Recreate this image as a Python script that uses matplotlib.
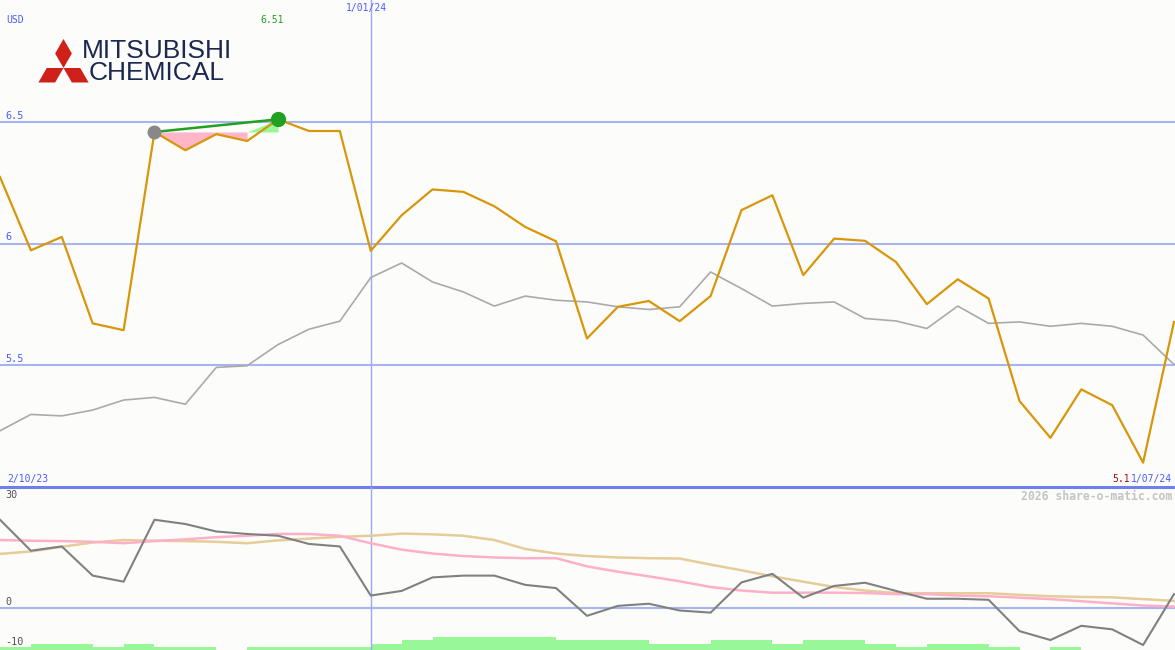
import matplotlib
matplotlib.use("Agg")
import matplotlib.pyplot as plt
from matplotlib.patches import Polygon
import numpy as np

# weekly closes, 2/10/23 .. 1/07/24 (USD)
price = [6.273, 5.972, 6.027, 5.672, 5.644, 6.458, 6.383, 6.449, 6.421, 6.51,
         6.462, 6.462, 5.970, 6.116, 6.222, 6.212, 6.153, 6.068, 6.009, 5.610,
         5.740, 5.764, 5.681, 5.784, 6.137, 6.198, 5.870, 6.020, 6.011, 5.924,
         5.751, 5.853, 5.774, 5.353, 5.202, 5.401, 5.336, 5.100, 5.678]
price_ma = [5.231, 5.298, 5.292, 5.316, 5.357, 5.368, 5.340, 5.491, 5.498, 5.585,
            5.648, 5.681, 5.860, 5.920, 5.842, 5.801, 5.743, 5.784, 5.767, 5.760,
            5.740, 5.729, 5.740, 5.883, 5.815, 5.743, 5.754, 5.760, 5.692, 5.682,
            5.651, 5.743, 5.672, 5.678, 5.660, 5.672, 5.660, 5.624, 5.503]
# lower panel: momentum and its two averages
momentum = [24.7, 16.0, 17.2, 9.0, 7.3, 24.7, 23.5, 21.4, 20.7, 20.2,
            17.9, 17.2, 3.4, 4.7, 8.5, 9.0, 9.0, 6.4, 5.5, -2.3,
            0.5, 1.1, -0.8, -1.4, 7.1, 9.5, 2.8, 6.1, 7.0, 4.7,
            2.5, 2.5, 2.2, -6.6, -9.1, -5.1, -6.1, -10.5, 3.8]
mom_avg1 = [19.0, 18.8, 18.7, 18.5, 18.1, 18.7, 19.2, 19.8, 20.2, 20.7,
            20.7, 20.2, 18.1, 16.3, 15.2, 14.5, 14.1, 13.9, 13.9, 11.6,
            10.1, 8.8, 7.4, 5.8, 4.8, 4.2, 4.2, 4.2, 4.1, 3.8,
            3.8, 3.4, 3.2, 2.8, 2.4, 1.8, 1.2, 0.6, 0.3]
mom_avg2 = [15.1, 15.8, 17.1, 18.3, 19.0, 18.8, 18.7, 18.5, 18.1, 18.9,
            19.4, 19.9, 20.2, 20.8, 20.6, 20.2, 19.0, 16.5, 15.2, 14.5,
            14.1, 13.9, 13.8, 12.1, 10.5, 8.8, 7.3, 5.8, 4.8, 4.1,
            4.05, 4.05, 4.05, 3.6, 3.2, 3.0, 2.9, 2.4, 1.9]
volume = [1, 2, 2, 1, 2, 1, 1, 0, 1, 1, 1, 1, 2, 3, 4, 4, 4, 4, 3, 3,
          3, 2, 2, 3, 3, 2, 3, 3, 2, 1, 2, 2, 1, 0, 1, 0, 0, 0]
start_label = "2/10/23"
end_label = "1/07/24"
month_label = "1/01/24"
month_idx = 12
price_ticks = [5.5, 6, 6.5]
osc_ticks = [30, 0, -10]
swing_from, swing_to = 5, 9

BG = "#fcfdfb"
GRID = "#a8b4f0"
BLUE = "#4a5cff"
ORANGE = "#d8960a"
mono = "DejaVu Sans Mono"

W, H = 1175, 650
fig = plt.figure(figsize=(W / 100, H / 100), dpi=100, facecolor=BG)
split = 487

x = np.arange(len(price))
xmax = (len(price) - 1) * W / (W - 1)

# ---- price panel
ax = fig.add_axes([0, (H - split) / H, 1, split / H], facecolor=BG)
ax.set_xlim(0, xmax)
ax.set_ylim(5.0, 7.0)
for t in price_ticks:
    ax.axhline(t, color=GRID, lw=1.5, zorder=1)
ax.axvline(month_idx, color="#9aa8f8", lw=1.0, zorder=1)
ax.plot(x, price_ma, color="#aaaaaa", lw=1.2, zorder=3)

level = price[swing_from]
xs = x[swing_from:swing_to]
ax.fill_between(xs, level, price[swing_from:swing_to], color="#ffb6c8", lw=0, zorder=2)
ax.fill_between(x[swing_to - 1:swing_to + 1], level, [level, price[swing_to]],
                color="#98f898", lw=0, zorder=2)
ax.plot(x, price, color=ORANGE, lw=1.6, zorder=4)
ax.plot([swing_from, swing_to], [price[swing_from], price[swing_to]],
        color="#22a022", lw=1.8, zorder=5)
ax.plot(swing_from, price[swing_from], "o", ms=9, color="#888888", zorder=6)
ax.plot(swing_to, price[swing_to], "o", ms=10, color="#22a022", zorder=6)
ax.axis("off")

# ---- oscillator panel
ax2 = fig.add_axes([0, 0, 1, (H - split) / H], facecolor=BG)
ax2.set_xlim(0, xmax)
ax2.set_ylim(-11.9, 33.9)
axv = ax2.twinx()
axv.set_ylim(0, (H - split) / 3.2)
axv.bar(np.arange(len(volume)) + 0.5, volume, width=1.0, color="#98f898", lw=0)
axv.axis("off")
ax2.set_zorder(axv.get_zorder() + 1)
ax2.patch.set_visible(False)
ax2.axhline(0, color=GRID, lw=1.5, zorder=1)
ax2.axvline(month_idx, color="#9aa8f8", lw=1.0, zorder=1)
ax2.plot(x, mom_avg2, color="#e6cc98", lw=1.8, zorder=2)
ax2.plot(x, mom_avg1, color="#ffb0c8", lw=1.8, zorder=3)
ax2.plot(x, momentum, color="#808080", lw=1.5, zorder=4)
ax2.axis("off")

# ---- overlay in pixel coordinates for labels and logo
ov = fig.add_axes([0, 0, 1, 1], facecolor="none")
ov.set_xlim(0, W)
ov.set_ylim(H, 0)
ov.axis("off")
ov.axhline(split, color="#7080e8", lw=2.2)


def to_ov(axis, xv, yv):
    disp = axis.transData.transform((xv, yv))
    return ov.transData.inverted().transform(disp)


ov.text(6, 20, "USD", color=BLUE, fontsize=7, family=mono, va="center")
for t in price_ticks:
    _, yy = to_ov(ax, 0, t)
    ov.text(5, yy - 6, f"{t:g}", color=BLUE, fontsize=7.3, family=mono, va="center")
for t in osc_ticks:
    _, yy = to_ov(ax2, 0, t)
    yy = yy - 6 if t >= 0 else yy - 1
    ov.text(5, yy, f"{t:g}", color="#505050", fontsize=7.3, family=mono, va="center")
mx, _ = to_ov(ax, month_idx, 6)
ov.text(mx - 4, 8, month_label, color=BLUE, fontsize=7, family=mono,
        ha="center", va="center")
hx, _ = to_ov(ax, swing_to, 6)
ov.text(hx - 6, 20, f"{max(price):.2f}", color="#22a022", fontsize=7,
        family=mono, ha="center", va="center")
ov.text(7, 479, start_label, color=BLUE, fontsize=7, family=mono, va="center")
ov.text(1172, 479, end_label, color=BLUE, fontsize=7, family=mono,
        ha="right", va="center")
ov.text(1130, 479, f"{min(price):g}", color="#a01010", fontsize=7,
        family=mono, ha="right", va="center")
ov.text(1172, 496, "2026 share-o-matic.com", color="#c4c4c4", fontsize=8.3,
        family=mono, weight="bold", ha="right", va="center")

# Mitsubishi three-diamond mark
cx, cy, L = 63.5, 68.0, 29.0
s = L / np.sqrt(3) / 2
for ang in (0, 120, 240):
    a = np.radians(ang)
    rot = np.array([[np.cos(a), -np.sin(a)], [np.sin(a), np.cos(a)]])
    pts = np.array([[0, 0], [-s, -L / 2], [0, -L], [s, -L / 2]]) @ rot.T
    ov.add_patch(Polygon(pts + [cx, cy], closed=True, color="#d0201a", lw=0))
ov.text(82, 51, "MITSUBISHI", color="#1c2850", fontsize=19, family="Liberation Sans",
        va="center", ha="left")
ov.text(89, 73, "CHEMICAL", color="#1c2850", fontsize=19, family="Liberation Sans",
        va="center", ha="left")

fig.savefig("out.png", dpi=100, facecolor=BG)
